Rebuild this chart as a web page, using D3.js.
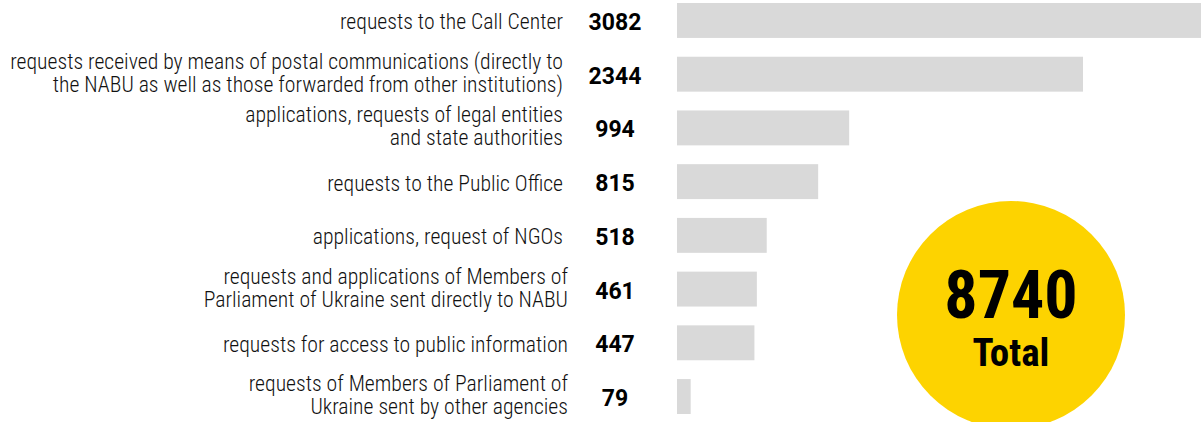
<!DOCTYPE html>
<html><head><meta charset="utf-8">
<script src="https://cdn.jsdelivr.net/npm/d3@7"></script>
<style>
  body { margin: 0; background: #fff; }
  svg { display: block; }
  .label { font-family: 'Roboto Condensed', 'Liberation Sans Narrow', sans-serif; font-weight: 300; font-size: 21.7px; fill: #111; }
  .value { font-family: Roboto, 'Liberation Sans', sans-serif; font-weight: 700; font-size: 23px; fill: #000; }
  .total { font-family: 'Roboto Condensed', Roboto, sans-serif; font-weight: 700; fill: #000; }
</style>
</head><body>
<svg id="chart" width="1201" height="422"></svg>
<script>
// Request categories (each entry holds the label's lines)
const categories = [
  ["requests to the Call Center"],
  ["requests received by means of postal communications (directly to", "the NABU as well as those forwarded from other institutions)"],
  ["applications, requests of legal entities", "and state authorities"],
  ["requests to the Public Office"],
  ["applications, request of NGOs"],
  ["requests and applications of Members of", "Parliament of Ukraine sent directly to NABU"],
  ["requests for access to public information"],
  ["requests of Members of Parliament of", "Ukraine sent by other agencies"]
];
const counts = [3082, 2344, 994, 815, 518, 461, 447, 79];
const totalCount = 8740;
const totalLabel = "Total";

const W = 1201, H = 422;
const svg = d3.select("#chart");

const rows = d3.range(categories.length);
const y = d3.scaleBand().domain(rows).range([3, 414]).paddingInner(0.35).paddingOuter(0);

const barX0 = 677;
const x = d3.scaleLinear().domain([0, 2344]).range([0, 406]);

// clip the bars to the drawing area
svg.append("defs").append("clipPath").attr("id", "area")
  .append("rect").attr("x", 0).attr("y", 0).attr("width", W).attr("height", H);

svg.append("g").attr("clip-path", "url(#area)")
  .selectAll("rect").data(rows).join("rect")
  .attr("x", barX0)
  .attr("y", i => y(i))
  .attr("width", i => x(counts[i]))
  .attr("height", y.bandwidth())
  .attr("fill", "#d9d9d9");

// category labels, right aligned
const labelG = svg.append("g");
rows.forEach(i => {
  const c = y(i) + y.bandwidth() / 2;
  const lines = categories[i];
  const right = i < 5 ? 563 : 568;
  const t = labelG.append("text").attr("class", "label").attr("text-anchor", "end");
  const base = lines.length === 1 ? [c + 9] : [c - 5.5, c + 17.5];
  lines.forEach((ln, k) => {
    t.append("tspan").attr("x", right).attr("y", base[k]).text(ln);
  });
});

// value labels
svg.append("g").selectAll("text").data(rows).join("text")
  .attr("class", "value")
  .attr("text-anchor", "middle")
  .attr("x", 615)
  .attr("y", i => y(i) + y.bandwidth() / 2 + 9.5)
  .text(i => counts[i]);

// total badge
const cx = 1011, cy = 315, r = 114;
const badge = svg.append("g");
badge.append("circle").attr("cx", cx).attr("cy", cy).attr("r", r).attr("fill", "#fdd300");
badge.append("text").attr("class", "total").attr("text-anchor", "middle")
  .attr("x", cx).attr("y", cy + 3).style("font-size", "66px").text(totalCount);
badge.append("text").attr("class", "total").attr("text-anchor", "middle")
  .attr("x", cx).attr("y", cy + 51).style("font-size", "39px").text(totalLabel);
</script>
</body></html>
